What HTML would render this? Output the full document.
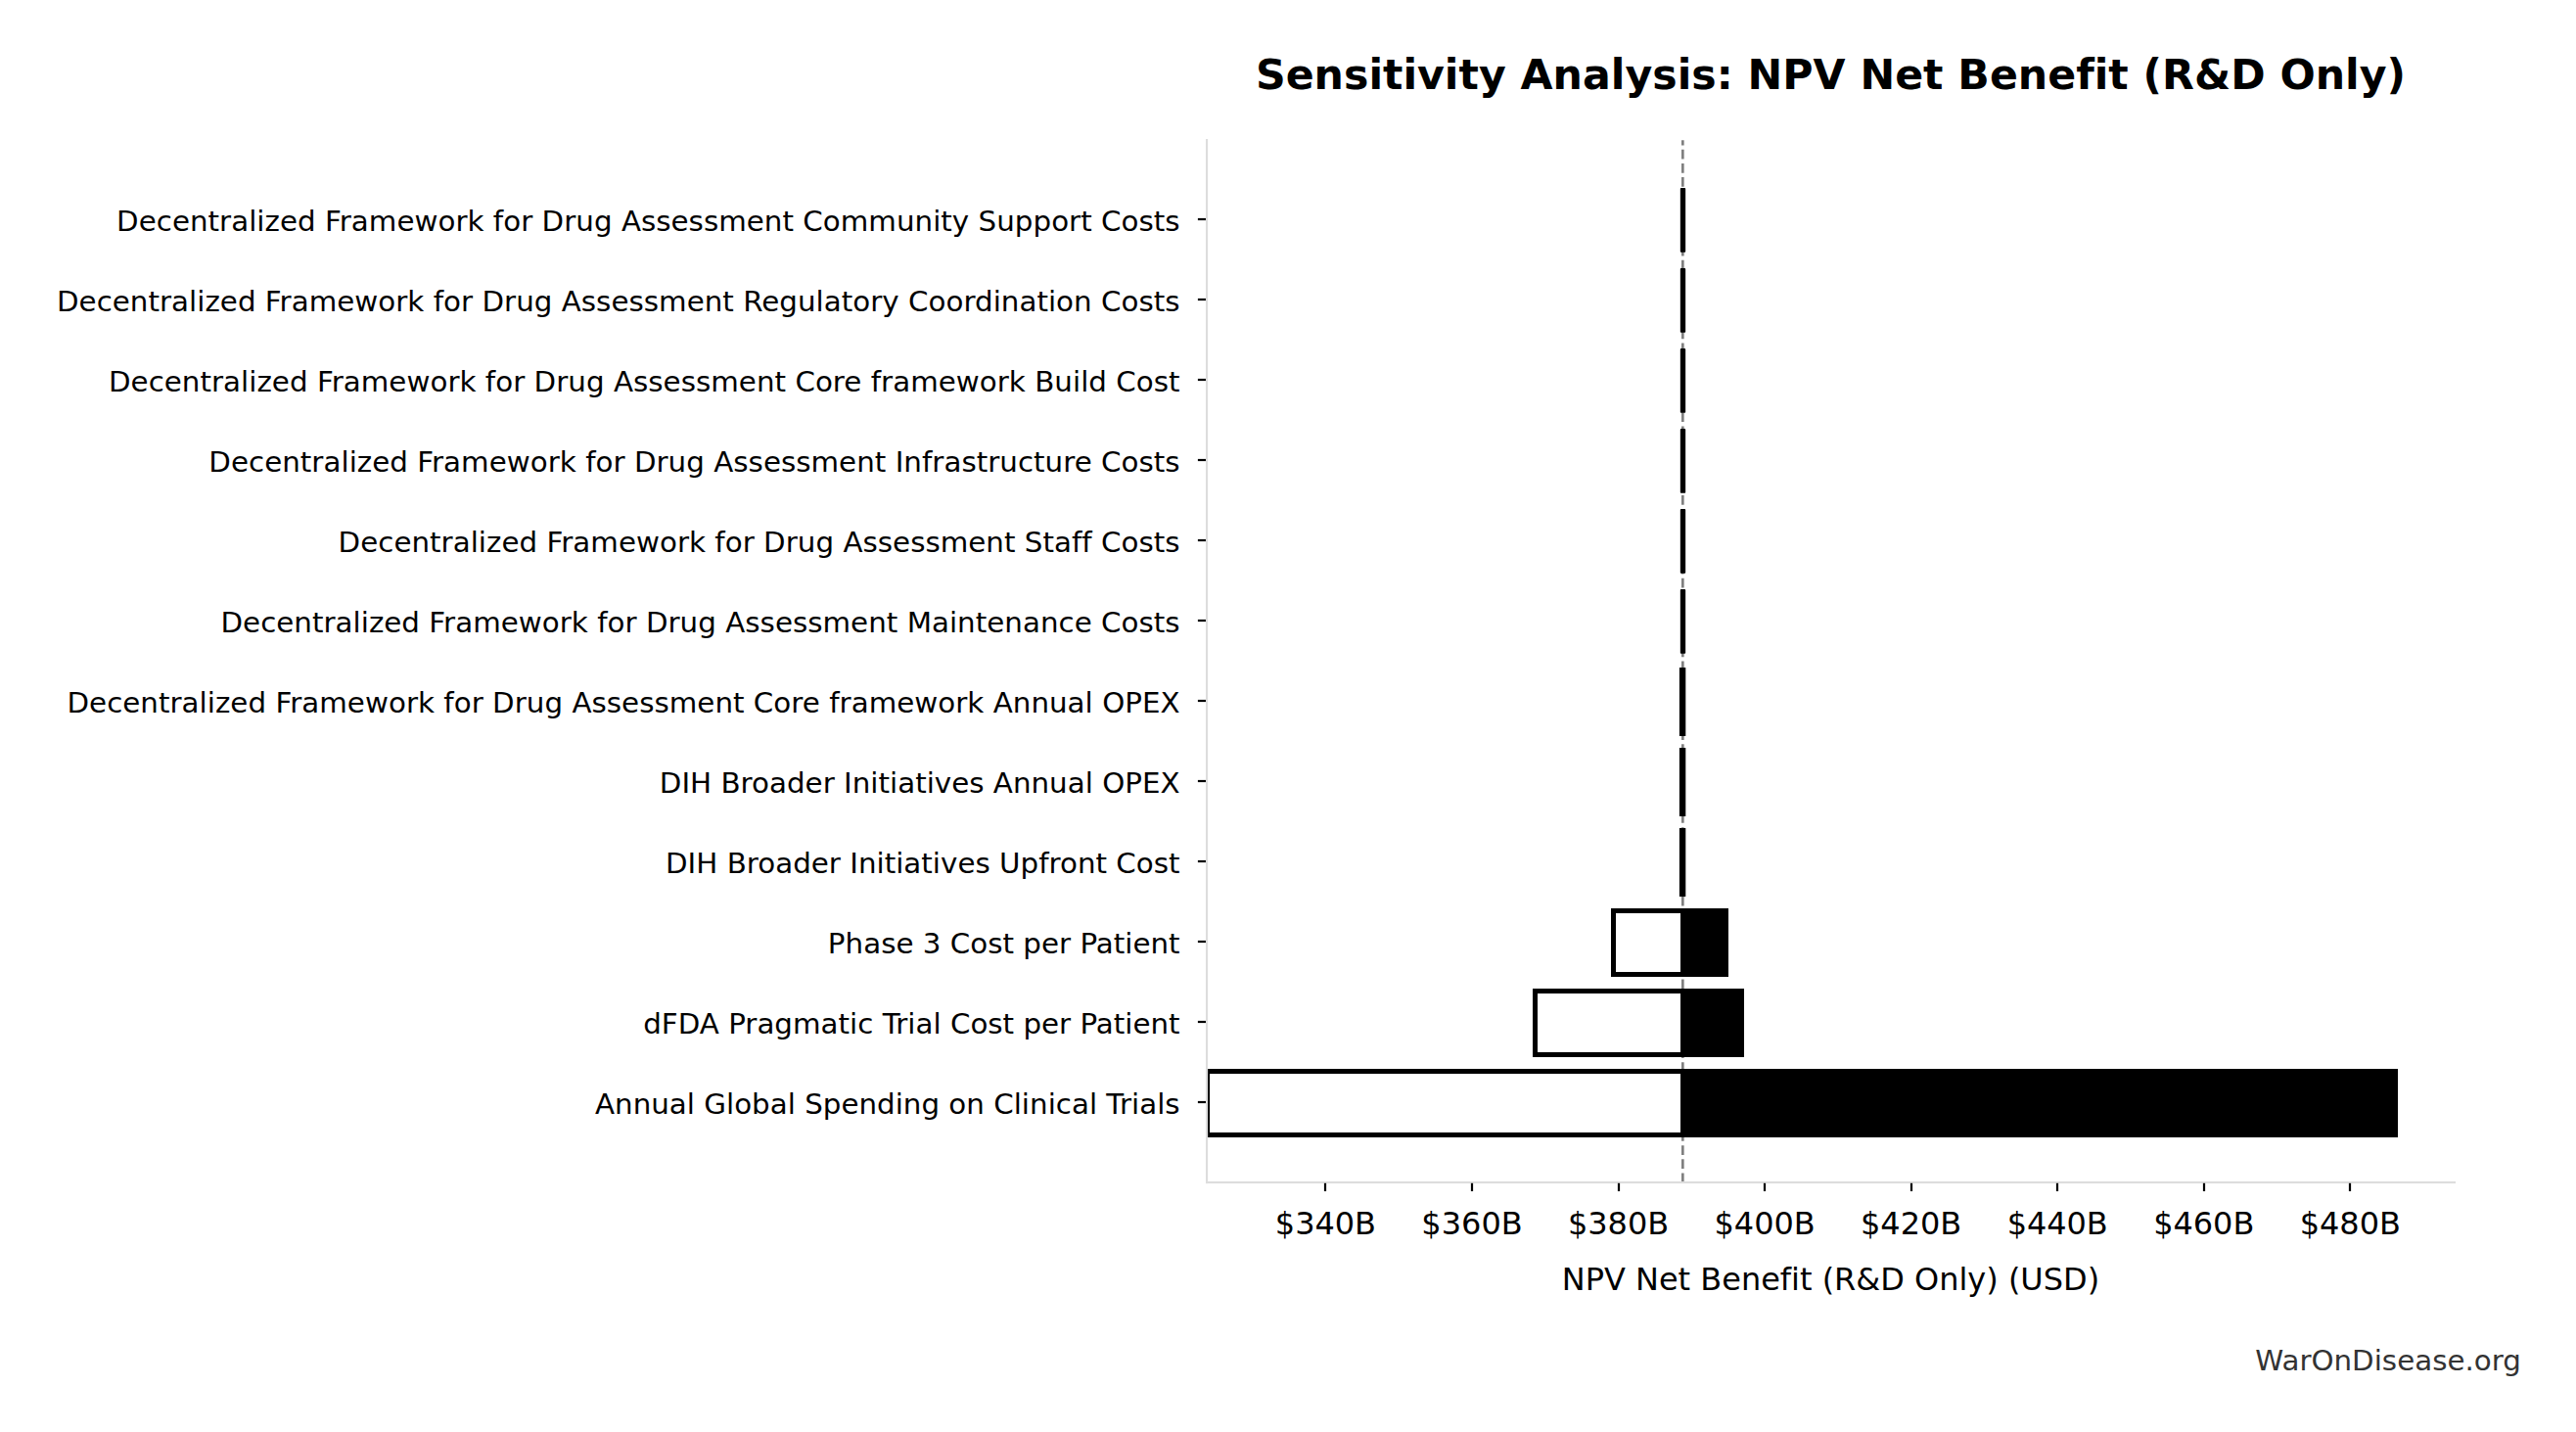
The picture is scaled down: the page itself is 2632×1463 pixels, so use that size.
<!DOCTYPE html>
<html lang="en"><head><meta charset="utf-8"><title>Sensitivity Analysis: NPV Net Benefit (R&amp;D Only)</title>
<style>html,body{margin:0;padding:0;background:#fff;}body{width:2632px;height:1463px;overflow:hidden;}svg{display:block;}text{font-family:"DejaVu Sans","Liberation Sans",sans-serif;font-stretch:normal;font-variant-ligatures:none;font-feature-settings:"liga" 0,"clig" 0;fill:#000;}</style></head><body>
<svg width="2632" height="1463" viewBox="0 0 2632 1463">
<rect width="2632" height="1463" fill="#fff"/>
<line x1="1719.33" y1="1208.2" x2="1719.33" y2="143.2" stroke="#808080" stroke-width="2.67" stroke-dasharray="9.8 4.33"/>
<rect x="1716.83" y="192.10" width="5.34" height="65.70" rx="0.8" fill="#000"/>
<rect x="1716.83" y="274.10" width="5.34" height="65.70" rx="0.8" fill="#000"/>
<rect x="1716.83" y="356.10" width="5.34" height="65.70" rx="0.8" fill="#000"/>
<rect x="1716.83" y="438.10" width="5.34" height="65.70" rx="0.8" fill="#000"/>
<rect x="1716.83" y="520.10" width="5.34" height="65.70" rx="0.8" fill="#000"/>
<rect x="1716.83" y="602.10" width="5.34" height="65.70" rx="0.8" fill="#000"/>
<rect x="1715.9" y="682.00" width="6.4" height="70" fill="#000"/>
<rect x="1715.9" y="764.00" width="6.4" height="70" fill="#000"/>
<rect x="1715.9" y="846.00" width="6.4" height="70" fill="#000"/>
<rect x="1646.00" y="928.00" width="120.00" height="70" fill="#000"/>
<rect x="1651.00" y="933.00" width="66.00" height="60" fill="#fff"/>
<rect x="1566.00" y="1010.00" width="216.00" height="70" fill="#000"/>
<rect x="1571.00" y="1015.00" width="146.00" height="60" fill="#fff"/>
<rect x="1233.00" y="1092.00" width="1217.00" height="70" fill="#000"/>
<rect x="1236.00" y="1097.00" width="481.00" height="60" fill="#fff"/>
<rect x="1231.98" y="142" width="2.14" height="1067.1" fill="#ddd"/>
<rect x="1231.98" y="1206.95" width="1277.02" height="2.14" fill="#ddd"/>
<rect x="1223.9" y="222.90" width="8.1" height="2.2" fill="#000"/>
<text transform="translate(1205.6 236.25) scale(1 0.982)" font-size="29.33" text-anchor="end" textLength="1086.500" lengthAdjust="spacing">Decentralized Framework for Drug Assessment Community Support Costs</text>
<rect x="1223.9" y="304.90" width="8.1" height="2.2" fill="#000"/>
<text transform="translate(1205.6 318.25) scale(1 0.982)" font-size="29.33" text-anchor="end" textLength="1147.625" lengthAdjust="spacing">Decentralized Framework for Drug Assessment Regulatory Coordination Costs</text>
<rect x="1223.9" y="386.90" width="8.1" height="2.2" fill="#000"/>
<text transform="translate(1205.6 400.25) scale(1 0.982)" font-size="29.33" text-anchor="end" textLength="1094.625" lengthAdjust="spacing">Decentralized Framework for Drug Assessment Core framework Build Cost</text>
<rect x="1223.9" y="468.90" width="8.1" height="2.2" fill="#000"/>
<text transform="translate(1205.6 482.25) scale(1 0.982)" font-size="29.33" text-anchor="end" textLength="992.250" lengthAdjust="spacing">Decentralized Framework for Drug Assessment Infrastructure Costs</text>
<rect x="1223.9" y="550.90" width="8.1" height="2.2" fill="#000"/>
<text transform="translate(1205.6 564.25) scale(1 0.982)" font-size="29.33" text-anchor="end" textLength="860.000" lengthAdjust="spacing">Decentralized Framework for Drug Assessment Staff Costs</text>
<rect x="1223.9" y="632.90" width="8.1" height="2.2" fill="#000"/>
<text transform="translate(1205.6 646.25) scale(1 0.982)" font-size="29.33" text-anchor="end" textLength="980.125" lengthAdjust="spacing">Decentralized Framework for Drug Assessment Maintenance Costs</text>
<rect x="1223.9" y="714.90" width="8.1" height="2.2" fill="#000"/>
<text transform="translate(1205.6 728.25) scale(1 0.982)" font-size="29.33" text-anchor="end" textLength="1137.125" lengthAdjust="spacing">Decentralized Framework for Drug Assessment Core framework Annual OPEX</text>
<rect x="1223.9" y="796.90" width="8.1" height="2.2" fill="#000"/>
<text transform="translate(1205.6 810.25) scale(1 0.982)" font-size="29.33" text-anchor="end" textLength="531.750" lengthAdjust="spacing">DIH Broader Initiatives Annual OPEX</text>
<rect x="1223.9" y="878.90" width="8.1" height="2.2" fill="#000"/>
<text transform="translate(1205.6 892.25) scale(1 0.982)" font-size="29.33" text-anchor="end" textLength="525.625" lengthAdjust="spacing">DIH Broader Initiatives Upfront Cost</text>
<rect x="1223.9" y="960.90" width="8.1" height="2.2" fill="#000"/>
<text transform="translate(1205.6 974.25) scale(1 0.982)" font-size="29.33" text-anchor="end" textLength="359.750" lengthAdjust="spacing">Phase 3 Cost per Patient</text>
<rect x="1223.9" y="1042.90" width="8.1" height="2.2" fill="#000"/>
<text transform="translate(1205.6 1056.25) scale(1 0.982)" font-size="29.33" text-anchor="end" textLength="548.375" lengthAdjust="spacing">dFDA Pragmatic Trial Cost per Patient</text>
<rect x="1223.9" y="1124.90" width="8.1" height="2.2" fill="#000"/>
<text transform="translate(1205.6 1138.25) scale(1 0.982)" font-size="29.33" text-anchor="end" textLength="597.625" lengthAdjust="spacing">Annual Global Spending on Clinical Trials</text>
<rect x="1352.90" y="1208.8" width="2.2" height="8.25" fill="#000"/>
<text transform="translate(1354.45 1261) scale(1 0.986)" font-size="32.00" text-anchor="middle" textLength="103.250" lengthAdjust="spacing">$340B</text>
<rect x="1502.90" y="1208.8" width="2.2" height="8.25" fill="#000"/>
<text transform="translate(1504.00 1261) scale(1 0.986)" font-size="32.00" text-anchor="middle" textLength="103.375" lengthAdjust="spacing">$360B</text>
<rect x="1652.90" y="1208.8" width="2.2" height="8.25" fill="#000"/>
<text transform="translate(1653.55 1261) scale(1 0.986)" font-size="32.00" text-anchor="middle" textLength="103.375" lengthAdjust="spacing">$380B</text>
<rect x="1801.90" y="1208.8" width="2.2" height="8.25" fill="#000"/>
<text transform="translate(1803.10 1261) scale(1 0.986)" font-size="32.00" text-anchor="middle" textLength="103.250" lengthAdjust="spacing">$400B</text>
<rect x="1951.90" y="1208.8" width="2.2" height="8.25" fill="#000"/>
<text transform="translate(1952.65 1261) scale(1 0.986)" font-size="32.00" text-anchor="middle" textLength="103.375" lengthAdjust="spacing">$420B</text>
<rect x="2100.90" y="1208.8" width="2.2" height="8.25" fill="#000"/>
<text transform="translate(2102.20 1261) scale(1 0.986)" font-size="32.00" text-anchor="middle" textLength="103.125" lengthAdjust="spacing">$440B</text>
<rect x="2250.90" y="1208.8" width="2.2" height="8.25" fill="#000"/>
<text transform="translate(2251.75 1261) scale(1 0.986)" font-size="32.00" text-anchor="middle" textLength="103.250" lengthAdjust="spacing">$460B</text>
<rect x="2399.90" y="1208.8" width="2.2" height="8.25" fill="#000"/>
<text transform="translate(2401.30 1261) scale(1 0.986)" font-size="32.00" text-anchor="middle" textLength="103.250" lengthAdjust="spacing">$480B</text>
<text transform="translate(1870.5 1318) scale(1 0.986)" font-size="32.00" text-anchor="middle" textLength="549.375" lengthAdjust="spacing">NPV Net Benefit (R&amp;D Only) (USD)</text>
<text x="1870.5" y="91.25" font-size="42.67" font-weight="bold" text-anchor="middle" textLength="1175.125" lengthAdjust="spacing">Sensitivity Analysis: NPV Net Benefit (R&amp;D Only)</text>
<text transform="translate(2575.9 1400) scale(1 0.982)" font-size="29.33" text-anchor="end" textLength="271.625" lengthAdjust="spacing" style="fill:#333">WarOnDisease.org</text>
</svg></body></html>
